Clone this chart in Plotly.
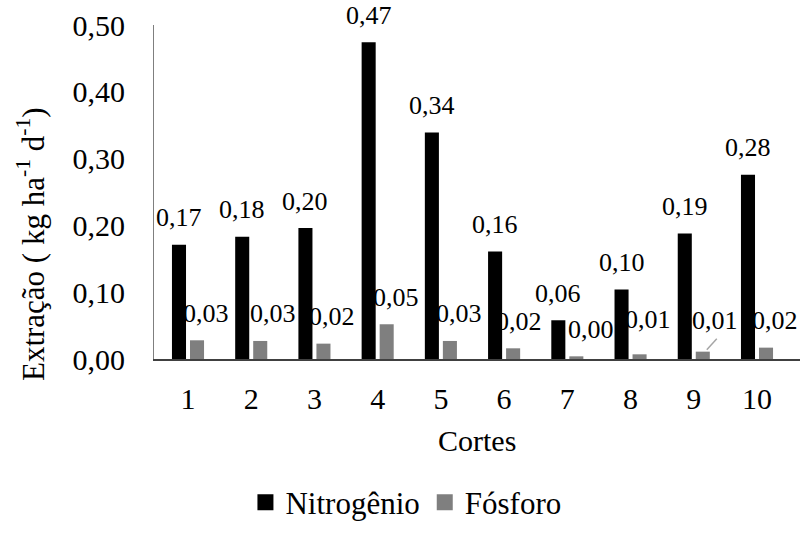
import plotly.graph_objects as go

categories = ["1", "2", "3", "4", "5", "6", "7", "8", "9", "10"]
nitrogenio = [0.171, 0.183, 0.196, 0.474, 0.339, 0.161, 0.058, 0.104, 0.188, 0.276]
fosforo = [0.028, 0.027, 0.023, 0.052, 0.027, 0.016, 0.004, 0.007, 0.011, 0.017]
y_ticks = [0.0, 0.1, 0.2, 0.3, 0.4, 0.5]
series_names = ["Nitrogênio", "Fósforo"]

FONT = "Liberation Serif"
N_COLOR = "#000000"
P_COLOR = "#7f7f7f"

def fmt(v):
    return f"{v:.2f}".replace(".", ",")

fig = go.Figure()
fig.add_trace(go.Bar(x=categories, y=nitrogenio, name=series_names[0], showlegend=False,
                     marker=dict(color=N_COLOR, line=dict(width=0))))
fig.add_trace(go.Bar(x=categories, y=fosforo, name=series_names[1], showlegend=False,
                     marker=dict(color=P_COLOR, line=dict(width=0))))
# legend entries with larger square keys
for name, col in zip(series_names, [N_COLOR, P_COLOR]):
    fig.add_trace(go.Scatter(x=[None], y=[None], mode="markers", name=name,
                             marker=dict(symbol="square", size=20, color=col)))

annotations = []
# data labels for Nitrogênio (centered over N bars)
for i, v in enumerate(nitrogenio):
    annotations.append(dict(x=i, y=v, xref="x", yref="y", text=fmt(v),
                            showarrow=False, xshift=-9, yshift=27,
                            yanchor="middle", xanchor="center",
                            font=dict(family=FONT, size=26, color="#000000")))
# data labels for Fósforo (offset to the right, as in the original)
p_xnudge = [17.5, 22, 17.5, 18.7, 18, 14.5, 23.5, 17.5, 21, 18]
p_ynudge = [0, 0, 0, 0, 0, 0, 0, 8, 4, 0]
for i, (v, dx, dy) in enumerate(zip(fosforo, p_xnudge, p_ynudge)):
    annotations.append(dict(x=i, y=v, xref="x", yref="y", text=fmt(v),
                            showarrow=False, xshift=dx, yshift=27 + dy,
                            yanchor="middle", xanchor="center",
                            font=dict(family=FONT, size=26, color="#000000")))

# axis titles
annotations.append(dict(x=0.5, y=-0.245, xref="paper", yref="paper", text="Cortes",
                        showarrow=False, xanchor="center", yanchor="middle",
                        font=dict(family=FONT, size=30, color="#000000")))
annotations.append(dict(x=-0.19, y=0.345, xref="paper", yref="paper",
                        text="Extração ( kg ha<sup>-1</sup> d<sup>-1</sup>)",
                        showarrow=False, textangle=-90, xanchor="center", yanchor="middle",
                        font=dict(family=FONT, size=31, color="#000000")))

# leader line for label of cut 9 (Fósforo)
shapes = [dict(type="line", xref="x", yref="y", xsizemode="pixel", ysizemode="pixel",
               xanchor=8, yanchor=fosforo[8],
               x0=13, y0=2, x1=23, y1=13,
               line=dict(color="#a6a6a6", width=1.5))]

fig.update_layout(
    width=809, height=538,
    margin=dict(l=154, r=9, t=25, b=177, pad=0),
    paper_bgcolor="white", plot_bgcolor="white",
    barmode="group", bargap=0.43, bargroupgap=0.22,
    separators=",.",
    font=dict(family=FONT, size=30, color="#000000"),
    showlegend=True,
    legend=dict(orientation="h", x=0.39, xanchor="center", y=-0.43, yanchor="middle",
                font=dict(family=FONT, size=31, color="#000000"),
                itemsizing="trace", itemwidth=30, bgcolor="rgba(0,0,0,0)"),
    annotations=annotations,
    shapes=shapes,
)
fig.update_xaxes(type="category", showgrid=False, showline=True, linecolor="#404040",
                 linewidth=1.5, ticks="", ticklabelstandoff=12,
                 tickfont=dict(family=FONT, size=30, color="#000000"))
fig.update_yaxes(range=[0, 0.5], tickvals=y_ticks, tickformat=".2f", showgrid=False,
                 zeroline=False, showline=True, linecolor="#7f7f7f", linewidth=1,
                 ticks="", ticklabelstandoff=22,
                 tickfont=dict(family=FONT, size=30, color="#000000"))

fig.write_html("out.html")
